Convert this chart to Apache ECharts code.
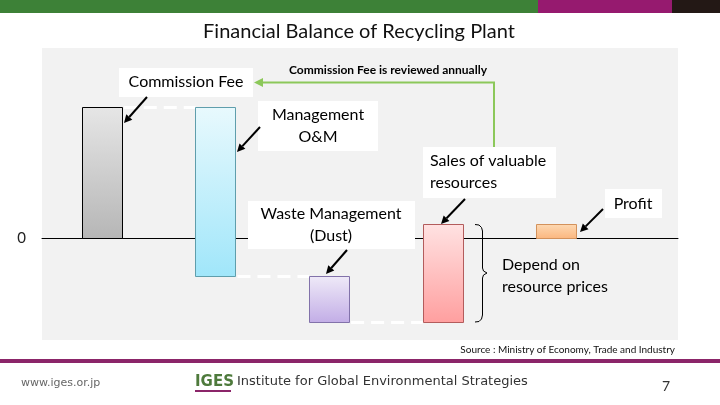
<!DOCTYPE html>
<html lang="en">
<head>
  <meta charset="UTF-8">
  <title>Financial Balance of Recycling Plant</title>
  <script src="https://cdn.jsdelivr.net/npm/echarts@6/dist/echarts.min.js"></script>
  <style>
    html, body { margin: 0; padding: 0; background: #fff; }
  </style>
</head>
<body>
<div id="main" style="width: 720px;height: 405px"></div>
</body>
<script>

  var chart = echarts.init(document.getElementById('main'));

  // data
  var categories = ['Commission Fee', 'Management O&M', 'Waste Management (Dust)', 'Sales of valuable resources', 'Profit'];
  var values = [100, -129, -35, 75, 11];
  var isTotal = [false, false, false, false, true];
  var connectNext = [true, true, true, false, false];
  var yTicks = [0];

  var fills = [
    ['#e6e6e6', '#b6b6b6', '#000000'],
    ['#e8f9fd', '#a0e6fa', '#5f9eac'],
    ['#efeaf8', '#c2ade6', '#8272aa'],
    ['#ffe2e2', '#ff9f9f', '#b35c5c'],
    ['#fdd9b3', '#fbb67e', '#d3925c']
  ];

  // running levels for the waterfall
  var barData = [];
  var level = 0;
  for (var i = 0; i < values.length; i++) {
    var from = isTotal[i] ? 0 : level;
    var to = isTotal[i] ? values[i] : level + values[i];
    barData.push([i + 1, from, to, i]);
    level = to;
  }

  var BAR_W = 40;

  function renderBar(params, api) {
    var x = api.value(0);
    var from = api.value(1);
    var to = api.value(2);
    var idx = api.value(3);
    var lo = Math.min(from, to), hi = Math.max(from, to);
    var pTop = api.coord([x, hi]);
    var pBot = api.coord([x, lo]);
    var c = fills[idx];
    var children = [{
      type: 'rect',
      shape: {x: Math.round(pTop[0] - BAR_W / 2) + 0.5, y: Math.round(pTop[1]) + 0.5, width: BAR_W, height: Math.round(pBot[1]) - Math.round(pTop[1])},
      style: {
        fill: new echarts.graphic.LinearGradient(0, 0, 0, 1, [
          {offset: 0, color: c[0]},
          {offset: 1, color: c[1]}
        ]),
        stroke: c[2],
        lineWidth: 1
      }
    }];
    if (connectNext[idx]) {
      var a = api.coord([x, to]);
      var b = api.coord([x + 1, to]);
      children.push({
        type: 'line',
        shape: {x1: a[0] + BAR_W / 2 + 2, y1: Math.round(a[1]) + 0.5, x2: b[0] - BAR_W / 2, y2: Math.round(a[1]) + 0.5},
        style: {stroke: '#ffffff', lineWidth: 3, lineDash: [13, 7]}
      });
    }
    return {type: 'group', children: children};
  }

  function arrow(x1, y1, x2, y2, color, w) {
    var ang = Math.atan2(y2 - y1, x2 - x1);
    var hl = 8, hw = 4;
    var bx = x2 - hl * Math.cos(ang), by = y2 - hl * Math.sin(ang);
    return [
      {type: 'line', shape: {x1: x1, y1: y1, x2: bx, y2: by}, style: {stroke: color, lineWidth: w}, z: 20},
      {type: 'polygon', shape: {points: [[x2, y2],
        [bx + hw * Math.sin(ang), by - hw * Math.cos(ang)],
        [bx - hw * Math.sin(ang), by + hw * Math.cos(ang)]]}, style: {fill: color}, z: 20}
    ];
  }

  function box(x, y, w, h) {
    return {type: 'rect', shape: {x: x, y: y, width: w, height: h}, style: {fill: '#ffffff'}, z: 15};
  }

  function label(text, x, y, size, align, weight, color, font) {
    return {
      type: 'text', x: x, y: y, z: 21,
      style: {
        text: text, fill: color || '#000', align: align || 'center', verticalAlign: 'middle',
        font: (weight || 'normal') + ' ' + size + 'px ' + (font || 'Lato, sans-serif'),
        lineHeight: 22
      }
    };
  }

  var graphics = [
    // slide frame
    {type: 'rect', shape: {x: 0, y: 0, width: 538, height: 13}, style: {fill: '#3d8137'}},
    {type: 'rect', shape: {x: 538, y: 0, width: 134, height: 13}, style: {fill: '#961a6f'}},
    {type: 'rect', shape: {x: 672, y: 0, width: 48, height: 13}, style: {fill: '#231815'}},
    {type: 'rect', shape: {x: 0, y: 359, width: 720, height: 4}, style: {fill: '#8b2569'}},
    label('Financial Balance of Recycling Plant', 359, 32, 20, 'center', 'normal', '#111'),
    label('Source : Ministry of Economy, Trade and Industry', 675, 350, 10, 'right', 'normal', '#111'),
    label('www.iges.or.jp', 21, 383, 11, 'left', 'normal', '#666', 'DejaVu Sans, sans-serif'),
    label('IGES', 195, 382, 15, 'left', 'bold', '#4e7a3c', 'DejaVu Sans, sans-serif'),
    {type: 'rect', shape: {x: 195, y: 390, width: 36, height: 2}, style: {fill: '#8b2569'}},
    label('Institute for Global Environmental Strategies', 237, 382, 13, 'left', 'normal', '#333', 'DejaVu Sans, sans-serif'),
    label('7', 666, 386, 14, 'center', 'normal', '#333'),

    // annotation boxes
    box(119, 68, 134, 29),
    label('Commission Fee', 186, 82, 16),
    label('Commission Fee is reviewed annually', 388, 70, 12, 'center', 'bold'),
    box(258, 101, 120, 50),
    label('Management\nO&M', 318, 126, 16),
    box(248, 201, 167, 48),
    label('Waste Management\n(Dust)', 331, 225, 16),
    box(423, 147, 133, 51),
    label('Sales of valuable\nresources', 430, 172, 16, 'left'),
    box(605, 189, 57, 29),
    label('Profit', 633, 204, 16),
    label('Depend on\nresource prices', 502, 276, 16, 'left'),

    // green feedback line
    {type: 'polyline', shape: {points: [[494, 147], [494, 82.5], [262, 82.5]]}, style: {stroke: '#8cc85a', lineWidth: 2, fill: null}, z: 20},
    {type: 'polygon', shape: {points: [[254, 82.5], [263, 78], [263, 87]]}, style: {fill: '#8cc85a'}, z: 20},

    // brace
    {type: 'polyline', z: 20,
      shape: {points: [[475, 224.5], [479, 225], [481.5, 227.5], [482.5, 231], [482.5, 268], [483.5, 271], [487, 273],
        [483.5, 275], [482.5, 278], [482.5, 315], [481.5, 319], [479, 321.5], [475, 322]]},
      style: {stroke: '#000', lineWidth: 1, fill: null}}
  ];

  graphics = graphics
    .concat(arrow(147, 97, 124, 123, '#000', 2))
    .concat(arrow(260, 127, 237, 152, '#000', 2))
    .concat(arrow(347, 250, 326, 274, '#000', 2))
    .concat(arrow(465, 199, 441, 224, '#000', 2))
    .concat(arrow(603, 209, 580, 232, '#000', 2));

  var option = {
    animation: false,
    backgroundColor: '#ffffff',
    grid: {
      left: 42, right: 42, top: 48, bottom: 65,
      show: true, backgroundColor: '#f2f2f2', borderWidth: 0
    },
    xAxis: {
      type: 'value',
      min: 0.474,
      max: 6.07,
      axisLine: {show: true, onZero: true, lineStyle: {color: '#000', width: 1}},
      axisTick: {show: false},
      axisLabel: {show: false},
      splitLine: {show: false}
    },
    yAxis: {
      type: 'value',
      min: -77.3,
      max: 144.6,
      axisLine: {show: false},
      axisTick: {show: false},
      splitLine: {show: false},
      axisLabel: {
        customValues: yTicks,
        margin: 16,
        color: '#222',
        fontSize: 15,
        fontFamily: 'Lato, sans-serif'
      }
    },
    graphic: graphics,
    series: [
      {
        type: 'custom',
        name: 'balance',
        renderItem: renderBar,
        encode: {x: 0, y: [1, 2]},
        data: barData,
        z: 10
      }
    ]
  };

  chart.setOption(option);

</script>
</html>
